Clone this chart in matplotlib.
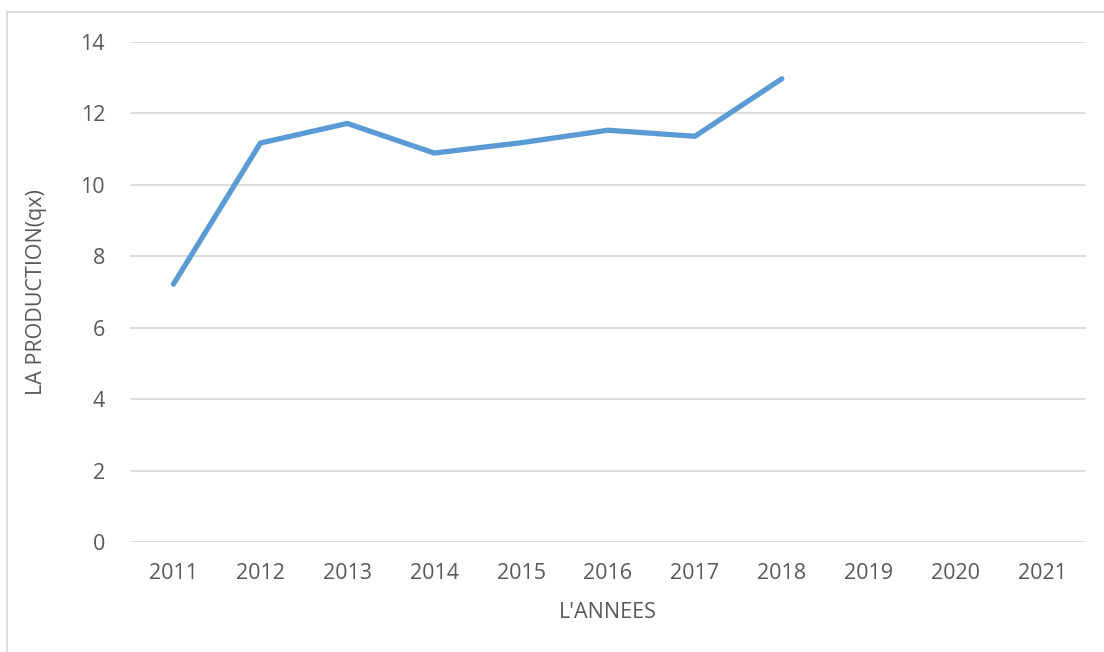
import matplotlib.pyplot as plt
from matplotlib.patches import Rectangle

# Données
annees = ['2011', '2012', '2013', '2014', '2015', '2016', '2017', '2018', '2019', '2020', '2021']
production = [7.22, 11.17, 11.72, 10.89, 11.18, 11.53, 11.36, 12.97]
y_ticks = [0, 2, 4, 6, 8, 10, 12, 14]

plt.rcParams['font.family'] = ['Open Sans', 'DejaVu Sans']
txt_color = '#595959'

fig = plt.figure(figsize=(11.04, 6.52), dpi=100)
ax = fig.add_axes([130 / 1104, 110 / 652, 956 / 1104, 500 / 652])

# Cadre du graphique (type Excel)
fig.patches.append(Rectangle((7 / 1104, -0.05), 1.1, (652 - 12) / 652 + 0.05,
                             transform=fig.transFigure, fill=False,
                             edgecolor='#D9D9D9', linewidth=1.3))

x = list(range(len(production)))
ax.plot(x, production, color='#5B9BD5', linewidth=3.8, solid_capstyle='round',
        solid_joinstyle='round', zorder=3)

ax.set_xlim(-0.5, len(annees) - 0.5)
ax.set_ylim(0, 14)
ax.set_xticks(range(len(annees)))
ax.set_xticklabels(annees)
ax.set_yticks(y_ticks)

ax.grid(axis='y', color='#D9D9D9', linewidth=1.3)
ax.set_axisbelow(True)
for s in ax.spines.values():
    s.set_visible(False)

ax.tick_params(axis='both', length=0, labelsize=15.5, labelcolor=txt_color)
ax.tick_params(axis='y', pad=18)
ax.tick_params(axis='x', pad=15)

ax.set_xlabel("L'ANNEES", fontsize=15.5, color=txt_color, labelpad=13)
ax.set_ylabel('LA PRODUCTION(qx)', fontsize=15.5, color=txt_color, labelpad=24)

fig.savefig('out.png', dpi=100)
